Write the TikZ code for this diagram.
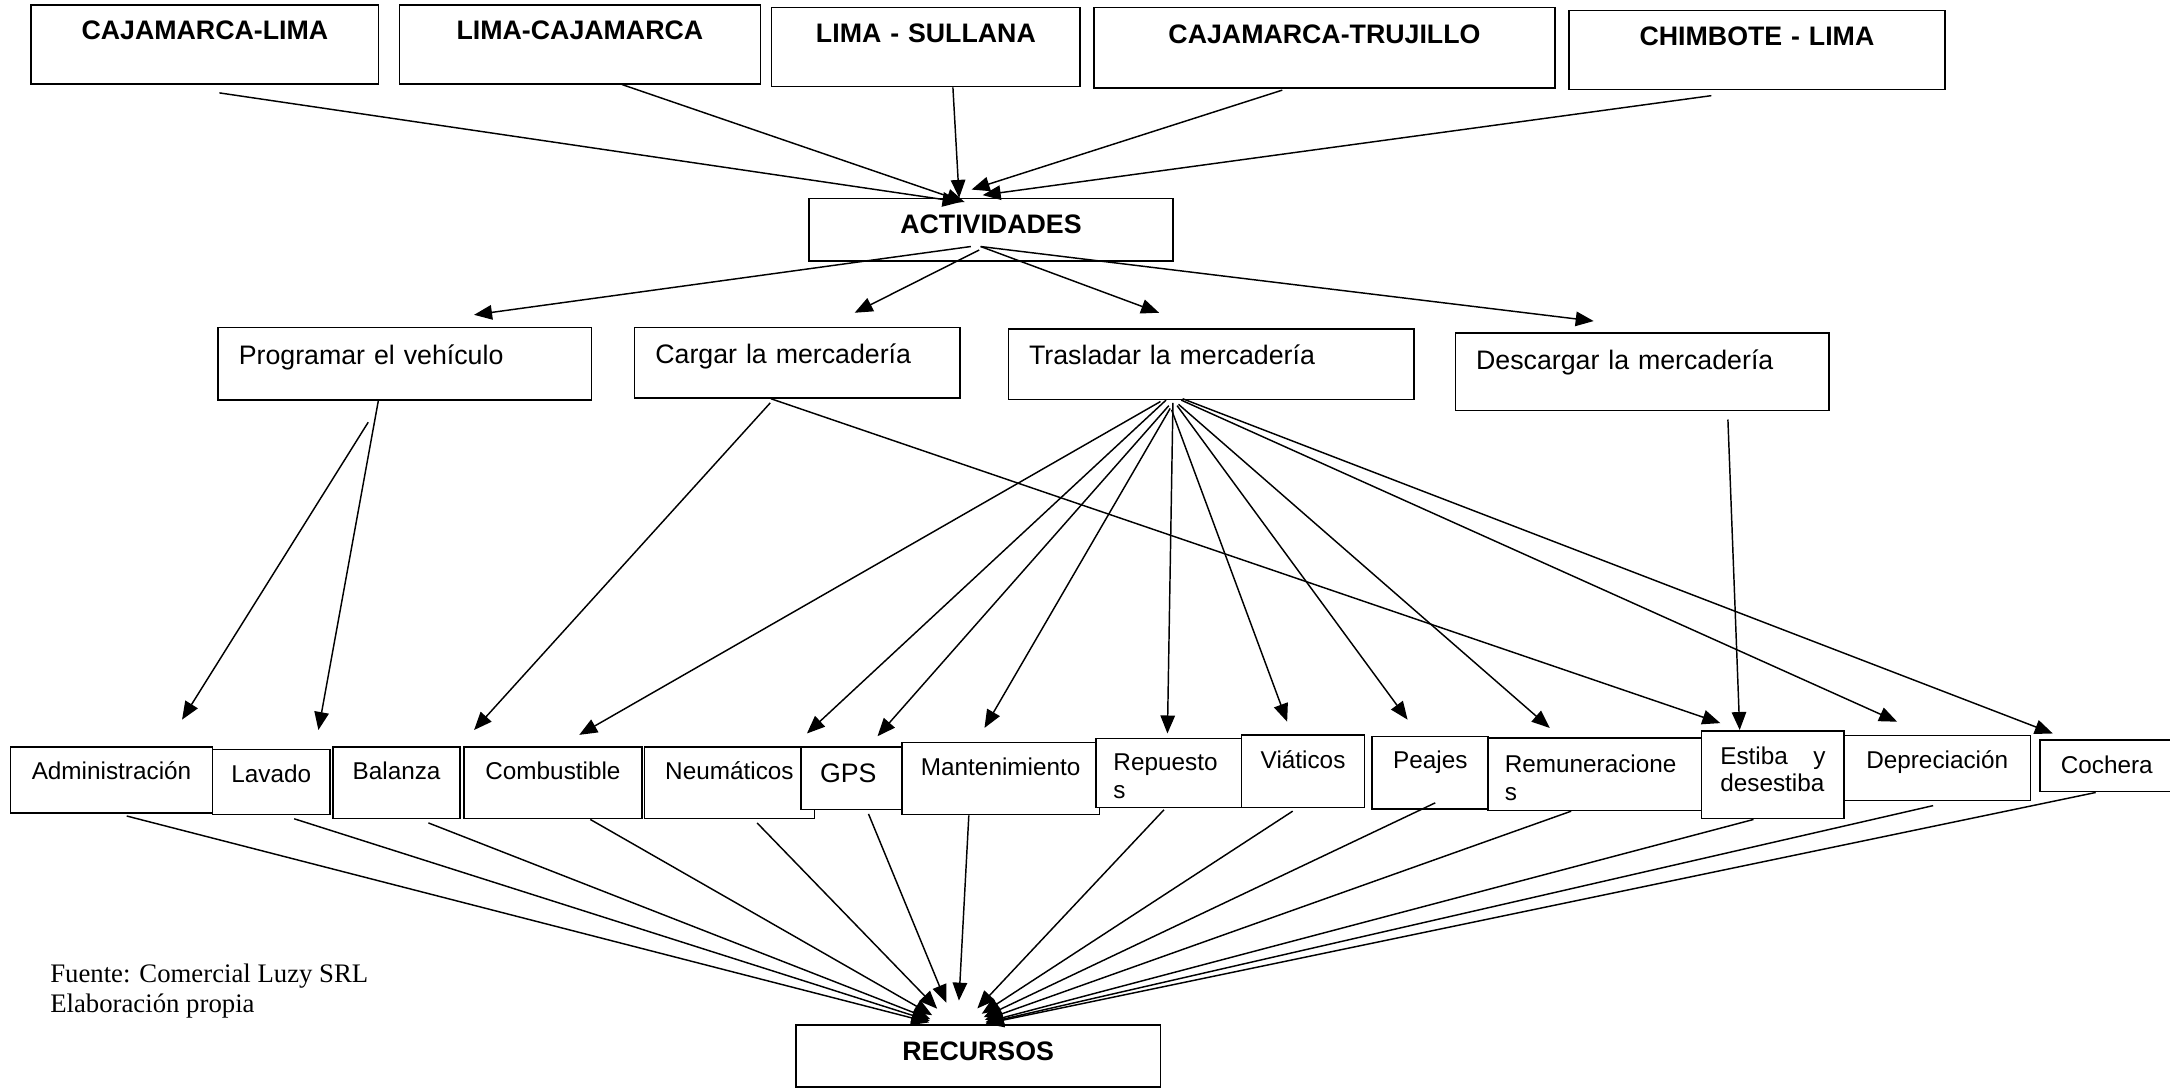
\documentclass[tikz,border=0pt]{standalone}
\usepackage{fontspec}
\setmainfont{Liberation Sans}
\newfontfamily\fuentefont{Liberation Serif}
\usetikzlibrary{arrows.meta,calc}
\tikzset{
    caja/.style={draw, black, line width=0.65pt, fill=white, rectangle, anchor=north west, inner xsep=0pt, inner ysep=0pt},
    ruta/.style={caja, font=\fontsize{11}{13}\selectfont\bfseries, align=center, text height=0.50cm, text depth=0.64cm},
    tarea/.style={caja, font=\fontsize{11}{13}\selectfont, align=left, inner xsep=0.3cm},
    recurso/.style={caja, font=\fontsize{10}{11.5}\selectfont, align=center},
    flecha/.style={black, line width=0.6pt, -{Triangle[length=0.26cm,width=0.21cm]}},
}
\begin{document}
\begin{tikzpicture}[x=0.02cm, y=-0.02cm]
    \useasboundingbox (0,0) rectangle (1568,786);
    \node[ruta, text width=5.02cm] (rt1) at (22,3) {CAJAMARCA-LIMA};
    \node[ruta, text width=5.22cm] (rt2) at (288,3) {LIMA-CAJAMARCA};
    \node[ruta, text width=4.46cm] (rt3) at (557,5) {LIMA - SULLANA};
    \node[ruta, text width=6.66cm, text height=0.52cm] (rt4) at (790,5) {CAJAMARCA-TRUJILLO};
    \node[ruta, text width=5.44cm] (rt5) at (1133,7) {CHIMBOTE - LIMA};
    \node[ruta, text width=5.26cm, text depth=0.40cm] (act) at (584,143) {ACTIVIDADES};
    \node[tarea, text width=4.80cm, text height=0.53cm, text depth=0.52cm] (t1) at (157,236) {Programar el vehículo};
    \node[tarea, text width=4.10cm, text height=0.52cm, text depth=0.50cm] (t2) at (458,236) {Cargar la mercadería};
    \node[tarea, text width=5.26cm, text height=0.52cm, text depth=0.50cm] (t3) at (728,237) {Trasladar la mercadería};
    \node[tarea, text width=4.80cm, text height=0.53cm, text depth=0.59cm] (t4) at (1051,240) {Descargar la mercadería};
    \node[recurso, text width=2.92cm, text height=0.48cm, text depth=0.48cm] (r1) at (7,539) {Administración};
    \node[recurso, text width=1.70cm, text height=0.48cm, text depth=0.46cm] (r2) at (153,541) {Lavado};
    \node[recurso, text width=1.84cm, text height=0.48cm, text depth=0.56cm] (r3) at (240,539) {Balanza};
    \node[recurso, text width=2.58cm, text height=0.48cm, text depth=0.56cm] (r4) at (334.5,539) {Combustible};
    \node[recurso, text width=2.46cm, text height=0.48cm, text depth=0.56cm] (r5) at (465,539) {Neumáticos};
    \node[recurso, font=\fontsize{11}{13}\selectfont, align=left, inner xsep=0.28cm, text width=0.98cm, text height=0.52cm, text depth=0.39cm] (r6) at (578,539) {GPS};
    \node[recurso, text width=2.86cm, text height=0.48cm, text depth=0.56cm] (r7) at (651,536) {Mantenimiento};
    \node[recurso, align=left, inner xsep=0.25cm, text width=1.60cm, text height=0.47cm, text depth=0.53cm] (r8) at (791.5,533) {Repuesto\\s};
    \node[recurso, text width=1.78cm, text height=0.49cm, text depth=0.56cm] (r9) at (896.5,530.5) {Viáticos};
    \node[recurso, text width=1.68cm, text height=0.47cm, text depth=0.58cm] (r10) at (991,531.5) {Peajes};
    \node[recurso, align=left, inner xsep=0.245cm, text width=2.60cm, text height=0.50cm, text depth=0.55cm] (r11) at (1074.5,532.5) {Remuneracione\\s};
    \node[recurso, align=left, inner xsep=0.27cm, text width=1.52cm, text height=0.48cm, text depth=0.79cm] (r12) at (1229,527.5) {Estiba\hfill y\\desestiba};
    \node[recurso, text width=2.69cm, text height=0.48cm, text depth=0.46cm] (r13) at (1332,531) {Depreciación};
    \node[recurso, text width=1.93cm, text height=0.49cm, text depth=0.26cm] (r14) at (1473.5,534) {Cochera};
    \node[ruta, text width=5.27cm, text height=0.52cm, text depth=0.38cm] (rec) at (574.5,740) {RECURSOS};
    \node[font=\fuentefont\fontsize{11}{12.5}\selectfont, align=left, anchor=north west, inner sep=0pt] (fuente) at (36,696) {Fuente: Comercial Luzy SRL\\Elaboración propia};
    \coordinate (rc) at ($(rec.north)+(-15,4)$);

    \draw[flecha] ($(rt1.south)+(10.5,6)$) -- ($(act.north)+(-22,3)$);
    \draw[flecha] ($(rt2.south)+(30.5,0)$) -- ($(act.north)+(-19,3)$);
    \draw[flecha] ($(rt3.south)+(19.5,0)$) -- ($(act.north)+(-23,0)$);
    \draw[flecha] ($(rt4.south)+(-30.5,1)$) -- ($(act.north)+(-14,-6)$);
    \draw[flecha] ($(rt5.south)+(-33,4)$) -- ($(act.north)+(-6,-2)$);

    \draw[flecha] ($(act.south)+(-14.5,-11)$) -- ($(t1.north)+(50,-8.5)$);
    \draw[flecha] ($(act.south)+(-8.5,-8.5)$) -- ($(t2.north)+(41.5,-10)$);
    \draw[flecha] ($(act.south)+(-7.5,-11)$) -- ($(t3.north)+(-37.5,-11)$);
    \draw[flecha] ($(act.south)+(-7.5,-11)$) -- ($(t4.north)+(-35,-8)$);

    \draw[flecha] ($(t1.south)+(-26.5,15.5)$) -- ($(r1.north)+(51,-19)$);
    \draw[flecha] ($(t1.south)+(-19,-1)$) -- ($(r2.north)+(34,-13.5)$);
    \draw[flecha] ($(t2.south)+(-19.5,3)$) -- ($(r3.north)+(56,-11.5)$);
    \draw[flecha] ($(t2.south)+(-19,0)$) -- ($(r12.north)+(-38,-5)$);
    \draw[flecha] ($(t3.south)+(-36.5,1)$) -- ($(r4.north)+(19,-8)$);
    \draw[flecha] ($(t3.south)+(-32.5,0)$) -- ($(r5.north)+(56,-9)$);
    \draw[flecha] ($(t3.south)+(-30.5,4)$) -- ($(r6.north)+(17,-7)$);
    \draw[flecha] ($(t3.south)+(-29.5,6)$) -- ($(r7.north)+(-11.7,-10)$);
    \draw[flecha] ($(t3.south)+(-27.5,2)$) -- ($(r8.north)+(-1,-3)$);
    \draw[flecha] ($(t3.south)+(-28.5,7)$) -- ($(r9.north)+(-11.5,-9)$);
    \draw[flecha] ($(t3.south)+(-24.5,4)$) -- ($(r10.north)+(-16.5,-11.5)$);
    \draw[flecha] ($(t3.south)+(-23.5,3)$) -- ($(r11.north)+(-32.5,-6.5)$);
    \draw[flecha] ($(t3.south)+(-21.5,0)$) -- ($(r13.north)+(-29,-9.5)$);
    \draw[flecha] ($(t3.south)+(-20.5,-1)$) -- ($(r14.north)+(-39,-4)$);
    \draw[flecha] ($(t4.south)+(62,6)$) -- ($(r12.north)+(-24,0)$);

    \draw[flecha, shorten >=0.42cm] ($(r1.south)+(11,1.5)$) -- (rc);
    \draw[flecha, shorten >=0.42cm] ($(r2.south)+(16.5,2.5)$) -- (rc);
    \draw[flecha, shorten >=0.42cm] ($(r3.south)+(23,2.5)$) -- (rc);
    \draw[flecha, shorten >=0.42cm] ($(r4.south)+(27,0)$) -- (rc);
    \draw[flecha, shorten >=0.42cm] ($(r5.south)+(20,2.5)$) -- (rc);
    \draw[flecha, shorten >=0.42cm] ($(r6.south)+(10.5,2.5)$) -- (rc);
    \draw[flecha, shorten >=0.42cm] ($(r7.south)+(-23,0)$) -- (rc);
    \draw[flecha, shorten >=0.42cm] ($(r8.south)+(-3.5,1)$) -- (rc);
    \draw[flecha, shorten >=0.42cm] ($(r9.south)+(-7.5,2)$) -- (rc);
    \draw[flecha, shorten >=0.42cm] ($(r10.south)+(3.5,-5)$) -- (rc);
    \draw[flecha, shorten >=0.42cm] ($(r11.south)+(-17,0)$) -- (rc);
    \draw[flecha, shorten >=0.42cm] ($(r12.south)+(-14,0)$) -- (rc);
    \draw[flecha, shorten >=0.42cm] ($(r13.south)+(-3,3)$) -- (rc);
    \draw[flecha, shorten >=0.42cm] ($(r14.south)+(-8,0)$) -- (rc);
\end{tikzpicture}
\end{document}
